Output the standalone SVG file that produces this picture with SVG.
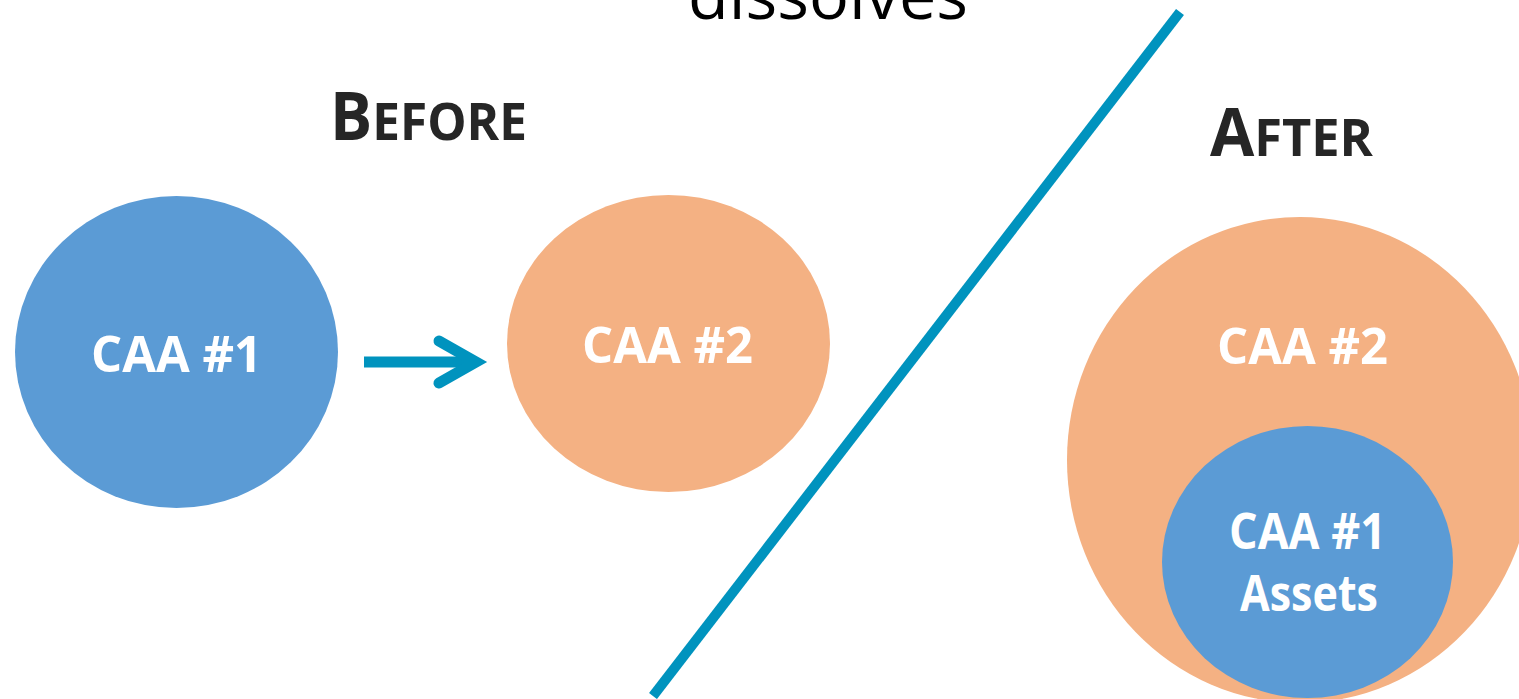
<svg xmlns="http://www.w3.org/2000/svg" width="1519" height="699" viewBox="0 0 1519 699">
<style>
.lbl{font-family:"Open Sans","Liberation Sans",sans-serif;font-weight:700;fill:#ffffff;font-size:50px}
.hd{font-family:"Open Sans","Liberation Sans",sans-serif;font-weight:700;fill:#262626}
.blue{fill:#5B9BD5}
.orange{fill:#F4B183}
</style>
<rect width="1519" height="699" fill="#ffffff"/>
<text x="688" y="19" font-family="'Open Sans','Liberation Sans',sans-serif" font-weight="400" font-size="66" fill="#000000" textLength="280" lengthAdjust="spacingAndGlyphs">dissolves</text>
<text class="hd" x="330" y="140" textLength="197" lengthAdjust="spacingAndGlyphs"><tspan font-size="66">B</tspan><tspan font-size="52">EFORE</tspan></text>
<text class="hd" x="1210" y="156" textLength="163" lengthAdjust="spacingAndGlyphs"><tspan font-size="66">A</tspan><tspan font-size="52">FTER</tspan></text>
<g id="caa1">
<ellipse class="blue" cx="176.5" cy="352" rx="161.5" ry="156"/>
<text class="lbl" x="91" y="372" textLength="171" lengthAdjust="spacingAndGlyphs">CAA #1</text>
</g>
<g id="caa2">
<ellipse class="orange" cx="668.5" cy="343.5" rx="161.5" ry="148.5"/>
<text class="lbl" x="582" y="363" textLength="171" lengthAdjust="spacingAndGlyphs">CAA #2</text>
</g>
<g id="caa2-after">
<ellipse class="orange" cx="1300" cy="460" rx="233" ry="243"/>
<text class="lbl" x="1217" y="364" textLength="171" lengthAdjust="spacingAndGlyphs">CAA #2</text>
</g>
<g id="caa1-assets">
<ellipse class="blue" cx="1307.5" cy="562" rx="145.5" ry="136"/>
<text class="lbl" x="1229" y="549" textLength="157" lengthAdjust="spacingAndGlyphs">CAA #1</text>
<text class="lbl" x="1240" y="611" textLength="138" lengthAdjust="spacingAndGlyphs">Assets</text>
</g>
<g id="connectors" stroke="#0093BE" fill="none">
<line x1="364" y1="362" x2="472" y2="362" stroke-width="11"/>
<polyline points="439,341 476,362 439,383" stroke-width="11" stroke-linecap="round" stroke-linejoin="miter"/>
<line x1="1180" y1="12" x2="653" y2="696" stroke-width="10"/>
</g>
</svg>
